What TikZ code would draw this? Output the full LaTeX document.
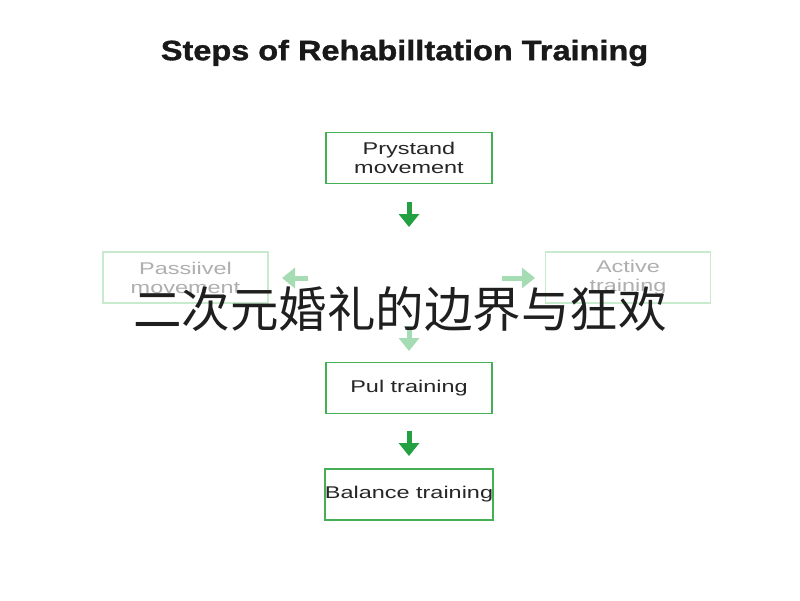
\documentclass[tikz,border=0pt]{standalone}
\usepackage{fontspec}
\setmainfont{Liberation Sans}
\newfontfamily\widefont[FakeStretch=1.38]{Liberation Sans}
\newfontfamily\titlefont[FakeStretch=1.16,FakeBold=1.2]{Liberation Sans}
\newfontfamily\cjk{Noto Sans CJK SC}
\usetikzlibrary{arrows.meta}
\definecolor{boxgreen}{RGB}{70,175,85}
\definecolor{arrgreen}{RGB}{35,160,65}
\definecolor{fadegreen}{RGB}{200,235,205}
\definecolor{fadetext}{RGB}{175,175,175}
\definecolor{fadearrow}{RGB}{165,220,180}
\begin{document}
\begin{tikzpicture}[x=1pt,y=-1pt,
  stepbox/.style={draw=boxgreen,line width=1.5pt,minimum width=166pt,minimum height=51pt,inner sep=0pt,align=center,font=\widefont\fontsize{17}{19}\selectfont,text=black!85},
  fadebox/.style={draw=fadegreen,line width=1.5pt,minimum width=165pt,minimum height=51pt,inner sep=0pt,align=center,font=\widefont\fontsize{17}{19}\selectfont,text=fadetext},
  arr/.style={-{Triangle[width=20pt,length=13pt]},line width=5pt,draw=arrgreen},
  fadearr/.style={-{Triangle[width=20pt,length=13pt]},line width=5pt,draw=fadearrow}]
\useasboundingbox[fill=white] (0,0) rectangle (800,600);
\node[font=\titlefont\bfseries\fontsize{28}{30}\selectfont,text=black!90] (title) at (404.5,53) {Steps of Rehabilltation Training};
\node[stepbox] (pry) at (409,158) {Prystand\\movement};
\node[fadebox] (pas) at (185.5,277.5) {Passiivel\\movement};
\node[fadebox] (act) at (628,277.5) {Active\\training};
\node[stepbox] (pul) at (409,388) {Pul training};
\node[stepbox] (bal) at (409,494.5) {Balance training};
\coordinate (a1s) at (409,202);
\coordinate (a1e) at (409,227);
\coordinate (a2s) at (308,278);
\coordinate (a2e) at (282,278);
\coordinate (a3s) at (502,278);
\coordinate (a3e) at (535,278);
\coordinate (a4s) at (409,326);
\coordinate (a4e) at (409,351);
\coordinate (a5s) at (409,431);
\coordinate (a5e) at (409,456);
\draw[arr] (a1s) -- (a1e);
\draw[fadearr] (a2s) -- (a2e);
\draw[fadearr] (a3s) -- (a3e);
\draw[fadearr] (a4s) -- (a4e);
\draw[arr] (a5s) -- (a5e);
\node[font=\cjk\fontsize{48.5}{50}\selectfont,text=black!88] (cjk) at (400,309) {二次元婚礼的边界与狂欢};
\end{tikzpicture}
\end{document}
